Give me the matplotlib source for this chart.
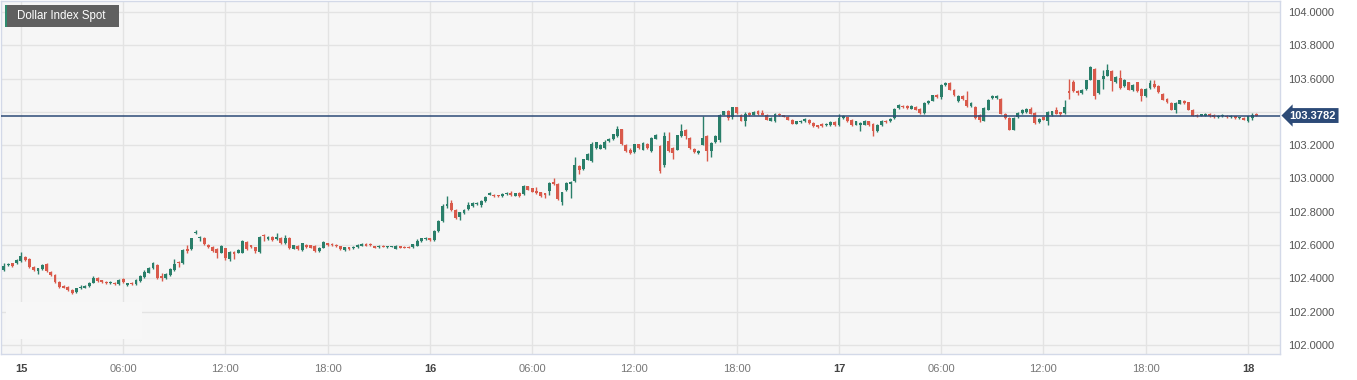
import numpy as np
import matplotlib
matplotlib.use("Agg")
import matplotlib.pyplot as plt
from matplotlib.patches import Rectangle
from matplotlib.transforms import blended_transform_factory

plt.rcParams['font.family'] = ['Liberation Sans', 'DejaVu Sans']

# 15-minute candles, first one at 22:45 on the 14th (hours from 15th 00:00)
start_hour = -1.25
step_hour = 0.25

opens = [
    102.43, 102.45, 102.48, 102.49, 102.49, 102.505, 102.53, 102.515, 102.47, 102.445, 102.455, 102.485,
    102.44, 102.42, 102.38, 102.355, 102.35, 102.33, 102.32, 102.34, 102.345, 102.355, 102.375, 102.405,
    102.39, 102.38, 102.37, 102.375, 102.365, 102.395, 102.36, 102.375, 102.365, 102.385, 102.41, 102.435,
    102.46, 102.48, 102.415, 102.40, 102.42, 102.45, 102.50, 102.49, 102.578, 102.575, 102.67, 102.64,
    102.645, 102.60, 102.59, 102.575, 102.555, 102.58, 102.515, 102.56, 102.555, 102.555, 102.62, 102.598,
    102.588, 102.56, 102.66, 102.634, 102.648, 102.634, 102.645, 102.61, 102.645, 102.578, 102.594, 102.57,
    102.60, 102.598, 102.594, 102.564, 102.584, 102.61, 102.606, 102.602, 102.592, 102.572, 102.586, 102.582,
    102.586, 102.596, 102.606, 102.606, 102.594, 102.586, 102.594, 102.588, 102.59, 102.578, 102.592, 102.59,
    102.59, 102.586, 102.596, 102.624, 102.634, 102.64, 102.632, 102.686, 102.746, 102.832, 102.852, 102.81,
    102.766, 102.792, 102.816, 102.832, 102.846, 102.84, 102.864, 102.90, 102.90, 102.898, 102.892, 102.904,
    102.912, 102.896, 102.912, 102.906, 102.952, 102.94, 102.926, 102.916, 102.91, 102.922, 102.98, 102.966,
    102.86, 102.932, 102.968, 102.986, 103.076, 103.056, 103.114, 103.106, 103.186, 103.18, 103.186, 103.226,
    103.236, 103.256, 103.296, 103.202, 103.17, 103.158, 103.206, 103.174, 103.208, 103.168, 103.24, 103.194,
    103.084, 103.224, 103.184, 103.174, 103.254, 103.294, 103.244, 103.18, 103.154, 103.204, 103.258, 103.164,
    103.22, 103.234, 103.384, 103.404, 103.368, 103.428, 103.384, 103.344, 103.394, 103.384, 103.408, 103.394,
    103.384, 103.348, 103.348, 103.388, 103.38, 103.37, 103.354, 103.33, 103.34, 103.344, 103.354, 103.334,
    103.32, 103.328, 103.32, 103.32, 103.34, 103.32, 103.364, 103.368, 103.354, 103.324, 103.324, 103.324,
    103.344, 103.328, 103.288, 103.32, 103.348, 103.344, 103.364, 103.424, 103.438, 103.438, 103.42, 103.43,
    103.42, 103.394, 103.454, 103.468, 103.504, 103.488, 103.56, 103.574, 103.534, 103.464, 103.494, 103.474,
    103.434, 103.43, 103.384, 103.348, 103.414, 103.484, 103.484, 103.48, 103.39, 103.364, 103.294, 103.368,
    103.394, 103.40, 103.42, 103.394, 103.338, 103.368, 103.344, 103.38, 103.41, 103.398, 103.394, 103.525,
    103.578, 103.524, 103.514, 103.538, 103.594, 103.658, 103.514, 103.598, 103.618, 103.648, 103.578, 103.604,
    103.554, 103.578, 103.53, 103.578, 103.54, 103.494, 103.544, 103.57, 103.558, 103.51, 103.478, 103.454,
    103.41, 103.45, 103.468, 103.458, 103.414, 103.384, 103.378, 103.378, 103.39, 103.382, 103.37, 103.374,
    103.378, 103.37, 103.374, 103.362, 103.366, 103.344, 103.364, 103.388,
]
highs = [
    102.45, 102.49, 102.49, 102.495, 102.515, 102.56, 102.535, 102.52, 102.475, 102.465, 102.485, 102.49,
    102.445, 102.425, 102.385, 102.36, 102.355, 102.335, 102.345, 102.36, 102.36, 102.38, 102.415, 102.41,
    102.39, 102.385, 102.385, 102.38, 102.395, 102.40, 102.375, 102.38, 102.395, 102.42, 102.45, 102.47,
    102.50, 102.485, 102.43, 102.43, 102.46, 102.515, 102.505, 102.575, 102.60, 102.645, 102.69, 102.655,
    102.65, 102.605, 102.595, 102.58, 102.60, 102.585, 102.565, 102.565, 102.575, 102.63, 102.625, 102.60,
    102.59, 102.655, 102.665, 102.655, 102.655, 102.674, 102.65, 102.66, 102.65, 102.60, 102.60, 102.615,
    102.605, 102.60, 102.60, 102.59, 102.625, 102.615, 102.61, 102.605, 102.595, 102.59, 102.59, 102.594,
    102.604, 102.615, 102.61, 102.61, 102.596, 102.60, 102.60, 102.596, 102.594, 102.60, 102.595, 102.592,
    102.592, 102.608, 102.635, 102.645, 102.648, 102.645, 102.69, 102.75, 102.846, 102.896, 102.87, 102.815,
    102.80, 102.816, 102.86, 102.858, 102.86, 102.872, 102.896, 102.918, 102.904, 102.90, 102.91, 102.918,
    102.926, 102.915, 102.916, 102.962, 102.956, 102.944, 102.946, 102.92, 102.914, 102.976, 103.002, 102.97,
    102.92, 102.978, 102.984, 103.13, 103.08, 103.12, 103.152, 103.222, 103.222, 103.21, 103.232, 103.245,
    103.27, 103.314, 103.30, 103.206, 103.186, 103.21, 103.21, 103.22, 103.212, 103.25, 103.27, 103.20,
    103.278, 103.278, 103.188, 103.264, 103.33, 103.298, 103.248, 103.184, 103.172, 103.378, 103.262, 103.22,
    103.26, 103.39, 103.408, 103.41, 103.432, 103.432, 103.388, 103.40, 103.40, 103.406, 103.412, 103.41,
    103.388, 103.368, 103.392, 103.392, 103.384, 103.374, 103.358, 103.348, 103.352, 103.362, 103.358, 103.338,
    103.324, 103.332, 103.334, 103.344, 103.344, 103.388, 103.384, 103.372, 103.358, 103.348, 103.34, 103.354,
    103.348, 103.332, 103.33, 103.352, 103.352, 103.364, 103.424, 103.448, 103.442, 103.442, 103.44, 103.434,
    103.424, 103.458, 103.474, 103.504, 103.508, 103.57, 103.58, 103.578, 103.538, 103.50, 103.50, 103.524,
    103.462, 103.434, 103.388, 103.43, 103.478, 103.50, 103.502, 103.484, 103.394, 103.368, 103.368, 103.40,
    103.42, 103.424, 103.428, 103.398, 103.362, 103.372, 103.404, 103.408, 103.428, 103.402, 103.47, 103.60,
    103.59, 103.53, 103.54, 103.594, 103.674, 103.664, 103.594, 103.654, 103.69, 103.652, 103.614, 103.654,
    103.60, 103.582, 103.568, 103.582, 103.544, 103.544, 103.59, 103.59, 103.562, 103.514, 103.482, 103.458,
    103.458, 103.474, 103.472, 103.462, 103.418, 103.388, 103.39, 103.396, 103.394, 103.386, 103.382, 103.39,
    103.382, 103.382, 103.378, 103.372, 103.37, 103.378, 103.394, 103.392,
]
lows = [
    102.42, 102.445, 102.475, 102.47, 102.485, 102.50, 102.505, 102.465, 102.445, 102.425, 102.45, 102.44,
    102.415, 102.375, 102.34, 102.34, 102.325, 102.305, 102.315, 102.335, 102.34, 102.35, 102.37, 102.38,
    102.375, 102.365, 102.365, 102.36, 102.36, 102.375, 102.355, 102.36, 102.36, 102.38, 102.405, 102.43,
    102.455, 102.395, 102.385, 102.395, 102.415, 102.445, 102.47, 102.485, 102.55, 102.57, 102.665, 102.625,
    102.60, 102.585, 102.56, 102.525, 102.55, 102.51, 102.505, 102.515, 102.55, 102.55, 102.57, 102.585,
    102.555, 102.555, 102.625, 102.63, 102.625, 102.63, 102.605, 102.605, 102.575, 102.575, 102.57, 102.565,
    102.585, 102.58, 102.56, 102.56, 102.58, 102.595, 102.597, 102.59, 102.57, 102.565, 102.572, 102.578,
    102.582, 102.594, 102.594, 102.597, 102.58, 102.584, 102.586, 102.584, 102.587, 102.574, 102.58, 102.58,
    102.58, 102.582, 102.592, 102.62, 102.63, 102.624, 102.626, 102.68, 102.74, 102.82, 102.806, 102.754,
    102.75, 102.788, 102.812, 102.828, 102.842, 102.83, 102.86, 102.898, 102.886, 102.89, 102.888, 102.90,
    102.896, 102.892, 102.89, 102.902, 102.928, 102.916, 102.906, 102.89, 102.88, 102.90, 102.96, 102.87,
    102.84, 102.926, 102.88, 102.976, 103.03, 103.05, 103.11, 103.10, 103.18, 103.175, 103.18, 103.22,
    103.232, 103.25, 103.20, 103.16, 103.15, 103.152, 103.178, 103.17, 103.18, 103.162, 103.236, 103.036,
    103.07, 103.16, 103.12, 103.17, 103.25, 103.24, 103.18, 103.156, 103.15, 103.20, 103.104, 103.13,
    103.216, 103.22, 103.38, 103.35, 103.36, 103.39, 103.344, 103.314, 103.376, 103.38, 103.384, 103.38,
    103.35, 103.344, 103.34, 103.376, 103.368, 103.35, 103.326, 103.326, 103.336, 103.34, 103.33, 103.31,
    103.306, 103.312, 103.316, 103.316, 103.316, 103.316, 103.36, 103.34, 103.318, 103.32, 103.288, 103.32,
    103.316, 103.258, 103.28, 103.316, 103.336, 103.34, 103.36, 103.42, 103.424, 103.42, 103.416, 103.41,
    103.388, 103.39, 103.45, 103.464, 103.484, 103.48, 103.556, 103.53, 103.494, 103.46, 103.47, 103.432,
    103.43, 103.358, 103.338, 103.344, 103.41, 103.48, 103.48, 103.386, 103.36, 103.29, 103.29, 103.364,
    103.39, 103.396, 103.386, 103.328, 103.334, 103.35, 103.32, 103.376, 103.386, 103.374, 103.39, 103.48,
    103.52, 103.50, 103.51, 103.534, 103.59, 103.48, 103.51, 103.538, 103.614, 103.528, 103.574, 103.54,
    103.55, 103.53, 103.526, 103.52, 103.468, 103.49, 103.54, 103.546, 103.514, 103.47, 103.456, 103.41,
    103.394, 103.446, 103.45, 103.41, 103.374, 103.37, 103.374, 103.374, 103.37, 103.366, 103.366, 103.37,
    103.366, 103.366, 103.358, 103.36, 103.35, 103.34, 103.354, 103.374,
]
closes = [
    102.44, 102.474, 102.485, 102.475, 102.51, 102.535, 102.51, 102.47, 102.45, 102.46, 102.48, 102.445,
    102.42, 102.38, 102.35, 102.345, 102.33, 102.315, 102.34, 102.35, 102.355, 102.375, 102.405, 102.385,
    102.38, 102.37, 102.38, 102.365, 102.39, 102.38, 102.37, 102.365, 102.39, 102.415, 102.44, 102.46,
    102.49, 102.40, 102.405, 102.425, 102.455, 102.485, 102.49, 102.57, 102.566, 102.64, 102.678, 102.65,
    102.605, 102.59, 102.565, 102.555, 102.595, 102.52, 102.56, 102.545, 102.57, 102.625, 102.575, 102.588,
    102.562, 102.65, 102.655, 102.648, 102.63, 102.648, 102.61, 102.64, 102.58, 102.598, 102.574, 102.61,
    102.59, 102.584, 102.564, 102.584, 102.618, 102.598, 102.60, 102.594, 102.576, 102.586, 102.576, 102.59,
    102.60, 102.606, 102.596, 102.60, 102.584, 102.594, 102.59, 102.592, 102.591, 102.596, 102.584, 102.582,
    102.582, 102.604, 102.626, 102.64, 102.642, 102.628, 102.686, 102.746, 102.832, 102.848, 102.812, 102.76,
    102.796, 102.812, 102.84, 102.852, 102.852, 102.866, 102.89, 102.912, 102.892, 102.894, 102.904, 102.914,
    102.90, 102.91, 102.896, 102.956, 102.932, 102.92, 102.91, 102.896, 102.90, 102.97, 102.964, 102.876,
    102.916, 102.972, 102.98, 103.08, 103.052, 103.116, 103.15, 103.206, 103.22, 103.20, 103.22, 103.24,
    103.266, 103.296, 103.206, 103.166, 103.156, 103.206, 103.182, 103.214, 103.184, 103.244, 103.26, 103.048,
    103.254, 103.164, 103.154, 103.26, 103.288, 103.254, 103.184, 103.16, 103.168, 103.244, 103.164, 103.214,
    103.254, 103.384, 103.404, 103.364, 103.428, 103.394, 103.348, 103.39, 103.38, 103.40, 103.388, 103.384,
    103.354, 103.364, 103.388, 103.38, 103.372, 103.354, 103.33, 103.344, 103.348, 103.358, 103.334, 103.314,
    103.31, 103.316, 103.33, 103.34, 103.32, 103.364, 103.378, 103.344, 103.324, 103.344, 103.334, 103.348,
    103.32, 103.284, 103.324, 103.348, 103.34, 103.36, 103.42, 103.444, 103.428, 103.424, 103.434, 103.414,
    103.394, 103.454, 103.468, 103.50, 103.488, 103.564, 103.574, 103.534, 103.50, 103.494, 103.476, 103.438,
    103.454, 103.364, 103.35, 103.424, 103.474, 103.494, 103.498, 103.39, 103.364, 103.294, 103.364, 103.394,
    103.414, 103.42, 103.39, 103.334, 103.358, 103.354, 103.398, 103.404, 103.39, 103.39, 103.428, 103.515,
    103.524, 103.514, 103.534, 103.59, 103.67, 103.494, 103.59, 103.614, 103.654, 103.584, 103.61, 103.544,
    103.59, 103.534, 103.564, 103.524, 103.494, 103.54, 103.574, 103.55, 103.518, 103.474, 103.46, 103.414,
    103.454, 103.47, 103.454, 103.414, 103.378, 103.374, 103.386, 103.39, 103.374, 103.37, 103.378, 103.384,
    103.37, 103.378, 103.362, 103.368, 103.354, 103.374, 103.384, 103.3782,
]

last_price = 103.3782
y_ticks = [102.0, 102.2, 102.4, 102.6, 102.8, 103.0, 103.2, 103.4, 103.6, 103.8, 104.0]
x_ticks = [0, 6, 12, 18, 24, 30, 36, 42, 48, 54, 60, 66, 72]
x_labels = ['15', '06:00', '12:00', '18:00', '16', '06:00', '12:00', '18:00',
            '17', '06:00', '12:00', '18:00', '18']

GREEN = '#2a7f6a'
RED = '#d95a4b'
NAVY = '#2c4a77'

o = np.array(opens)
h = np.array(highs)
l = np.array(lows)
c = np.array(closes)
t = start_hour + step_hour * np.arange(len(c))
up = c >= o
colors = np.where(up, GREEN, RED)

W, H = 1357, 380
fig = plt.figure(figsize=(W / 100, H / 100), dpi=100)
ax = fig.add_axes([1 / W, 1 - 354 / H, 1279 / W, 353 / H])
ax.set_facecolor('#f6f6f6')

ax.set_xlim(-1.17, 73.88)
ax.set_ylim(101.946, 104.066)

for v in x_ticks:
    ax.axvline(v, color='#e3e3e3', lw=1, zorder=0)
for v in y_ticks:
    ax.axhline(v, color='#e3e3e3', lw=1, zorder=0)

# lighter patch bottom-left hiding the grid
ax.add_patch(Rectangle((5 / 1279, (354 - 339) / 353), 136 / 1279, 37 / 353,
                       transform=ax.transAxes, fc='#f7f7f7', ec='none', zorder=0.5))

ax.vlines(t, l, h, colors=colors, lw=1, zorder=2)
body = np.maximum(np.abs(c - o), 0.006)
ax.bar(t, body, bottom=np.minimum(o, c), width=0.17, color=colors, lw=0, zorder=3)

ax.axhline(last_price, color=NAVY, lw=1.1, zorder=4)

for s in ax.spines.values():
    s.set_color('#d3d9e8')
    s.set_linewidth(1)

ax.set_xticks(x_ticks)
ax.set_xticklabels(x_labels)
for lab in ax.get_xticklabels():
    if ':' in lab.get_text():
        lab.set_color('#777777')
    else:
        lab.set_color('#444444')
        lab.set_fontweight('bold')
ax.tick_params(axis='x', length=0, labelsize=8, pad=7)

# the 103.4 label sits under the last-price tag, so it is left blank
ax.yaxis.tick_right()
ax.set_yticks(y_ticks)
ax.set_yticklabels(['' if abs(v - 103.4) < 1e-9 else '%.4f' % v for v in y_ticks])
ax.tick_params(axis='y', length=0, labelsize=8, labelcolor='#555555', pad=6)

tr = blended_transform_factory(ax.transAxes, ax.transData)
ax.text(1.0075, last_price, '%.4f' % last_price, transform=tr, ha='left', va='center',
        color='white', fontsize=8, fontweight='bold', zorder=6,
        bbox=dict(boxstyle='larrow,pad=0.22', fc=NAVY, ec='none'))

# title tag
fig.add_artist(Rectangle((5 / W, 1 - 27 / H), 114 / W, 22 / H, transform=fig.transFigure,
                         fc='#606060', ec='none'))
fig.add_artist(Rectangle((5 / W, 1 - 27 / H), 2 / W, 22 / H, transform=fig.transFigure,
                         fc='#2e8b6f', ec='none'))
fig.text(17 / W, 1 - 16.5 / H, 'Dollar Index Spot', color='white', fontsize=8.3,
         ha='left', va='center')

fig.savefig('out.png', dpi=100, facecolor='white')
